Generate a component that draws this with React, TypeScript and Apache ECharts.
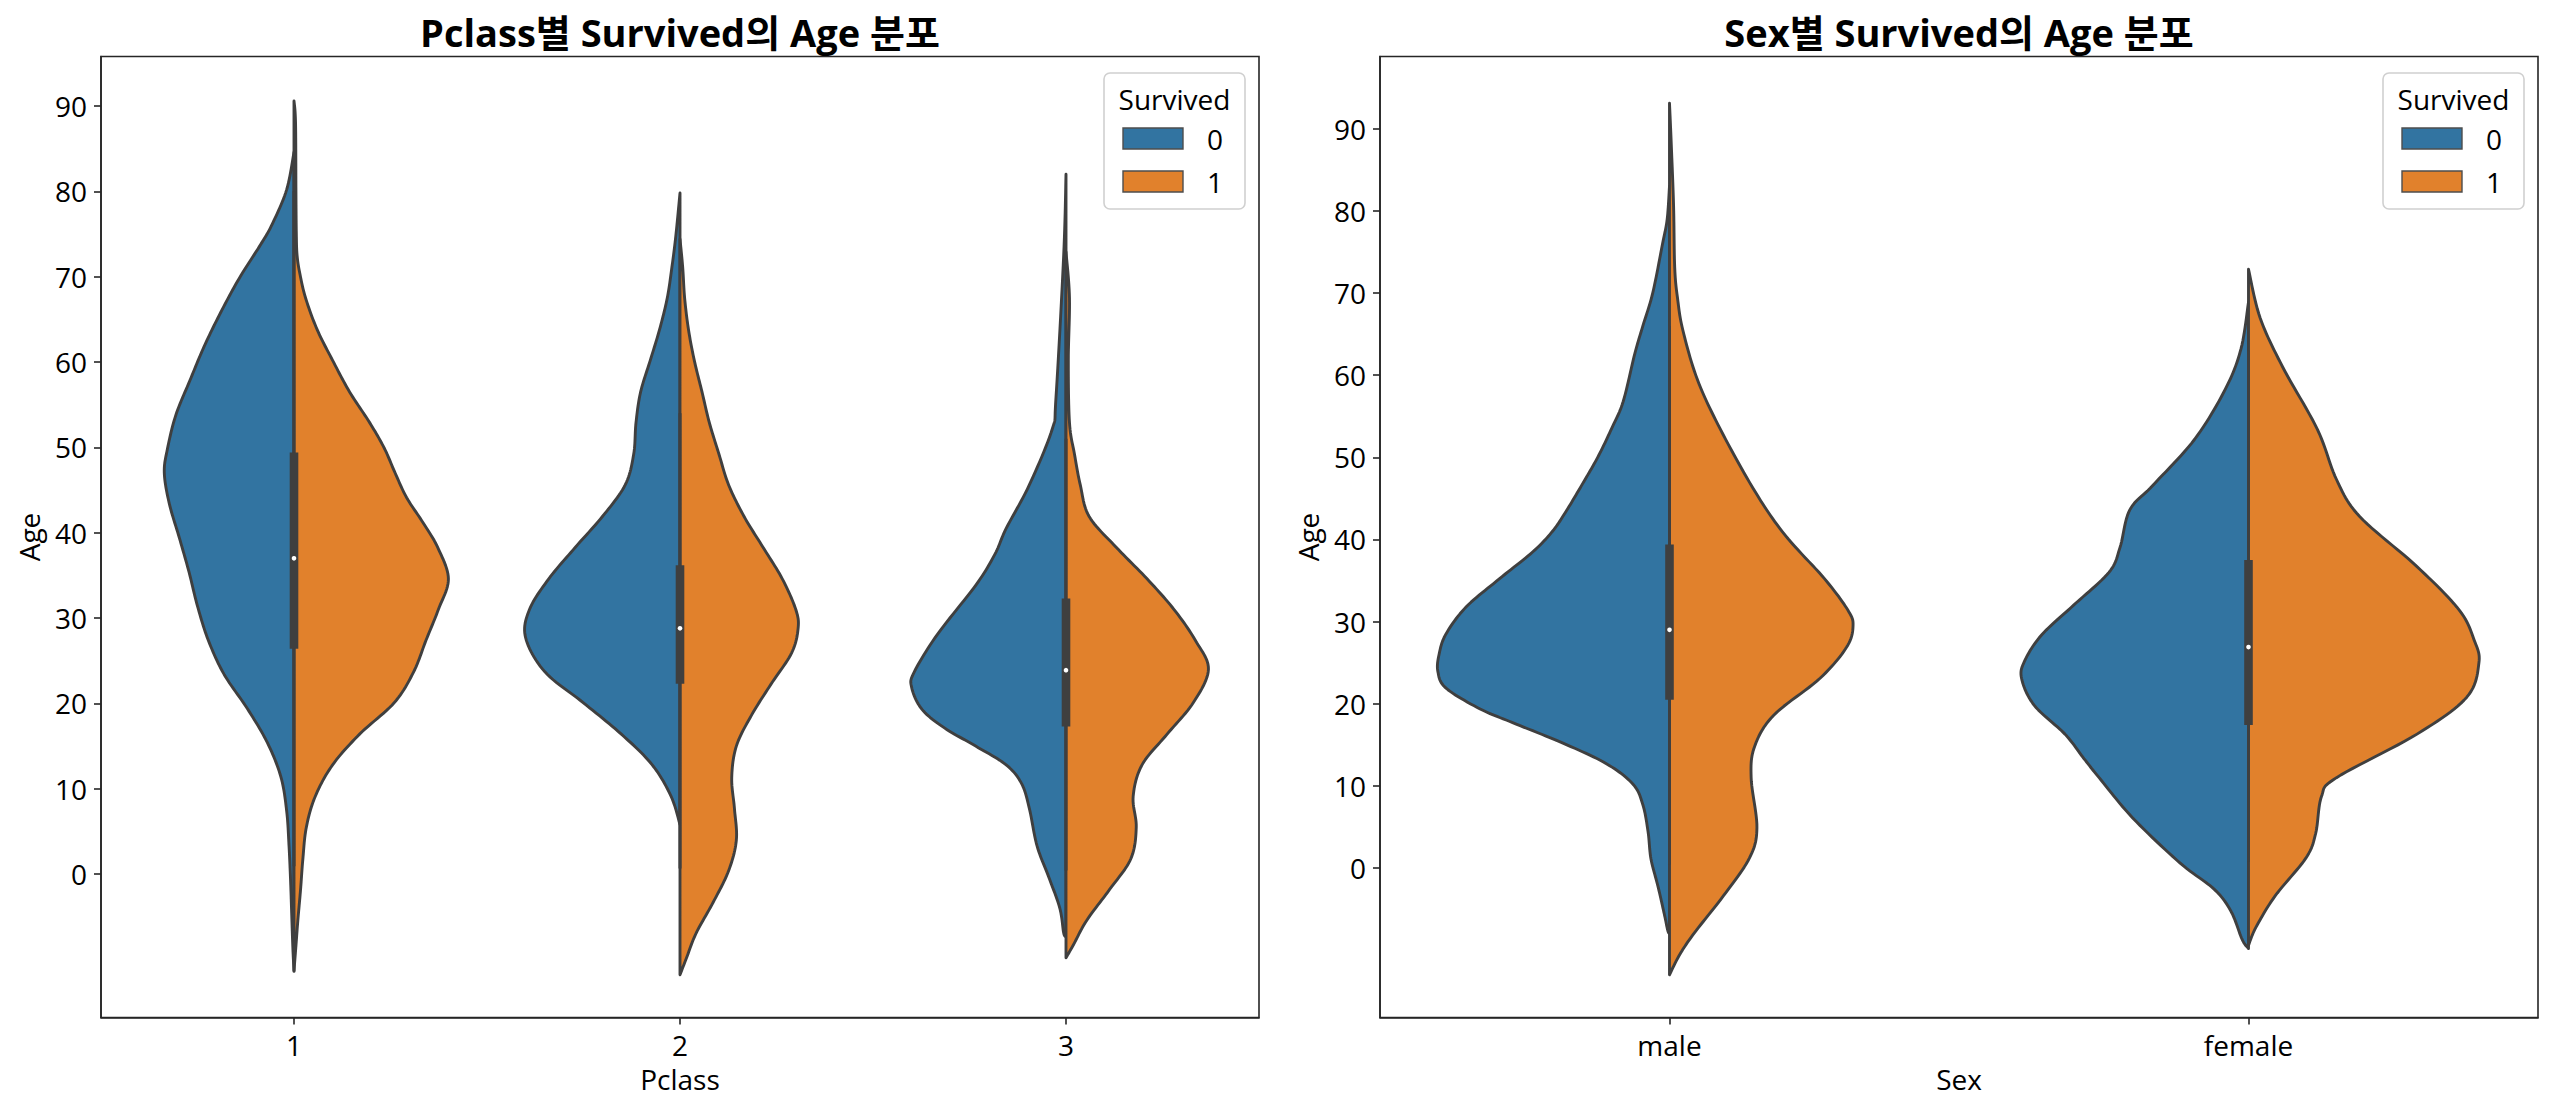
import React, { useEffect, useRef } from "react";
import * as echarts from "echarts";

// ---------- data ----------
const pclassCategories = ["1", "2", "3"];
const sexCategories = ["male", "female"];
const hueNames = ["0", "1"];
const ageTicks = [0, 10, 20, 30, 40, 50, 60, 70, 80, 90];
const pclassAgeRange = [-16.8, 95.8];
const sexAgeRange = [-18.2, 98.8];

// violin half profiles: [age, half-width as a fraction of the category band]
const class1Died = [[84.6, 0], [80.2, 0.019], [76.2, 0.056], [73.8, 0.086], [69.8, 0.142], [65.8, 0.19], [61.8, 0.233], [57.8, 0.27], [53.8, 0.306], [49.8, 0.328], [47, 0.336], [43.4, 0.323], [39.4, 0.297], [35.4, 0.272], [31.4, 0.25], [27.4, 0.222], [23.4, 0.181], [19.4, 0.121], [15.4, 0.069], [11.4, 0.034], [7.4, 0.019], [3.4, 0.013], [-0.6, 0.009], [-4.6, 0.006], [-8.6, 0.003], [-11.4, 0]];
const class1Survived = [[90.6, 0], [88, 0.004], [80, 0.005], [75, 0.006], [72.5, 0.008], [70.4, 0.015], [67.5, 0.03], [63.8, 0.06], [60.2, 0.1], [56.5, 0.144], [52.9, 0.196], [49.9, 0.234], [47, 0.262], [44.1, 0.292], [41.2, 0.334], [38.3, 0.372], [34.6, 0.4], [31, 0.374], [27.4, 0.342], [23.7, 0.31], [20.1, 0.26], [16.4, 0.17], [12.8, 0.1], [9.1, 0.055], [5.5, 0.032], [1.8, 0.023], [-1.8, 0.017], [-5.4, 0.01], [-8.4, 0.005], [-11.3, 0]];
const class2Died = [[79.8, 0], [74.7, 0.011], [71.1, 0.021], [67.5, 0.033], [63.8, 0.053], [60.2, 0.077], [56.5, 0.102], [52.9, 0.114], [49.2, 0.12], [45.6, 0.142], [41.9, 0.201], [38.3, 0.271], [34.6, 0.34], [31, 0.39], [27.7, 0.4], [23.7, 0.35], [20.1, 0.251], [16.4, 0.152], [12.8, 0.072], [9.1, 0.023], [5.8, 0]];
const class2Survived = [[74.4, 0], [71.1, 0.007], [67.5, 0.012], [63.8, 0.022], [60.2, 0.037], [56.5, 0.057], [52.9, 0.076], [49.2, 0.101], [45.6, 0.126], [41.9, 0.166], [38.3, 0.215], [34.6, 0.265], [31, 0.3], [28.8, 0.306], [25.9, 0.289], [22.2, 0.235], [18.6, 0.185], [15, 0.146], [11.3, 0.134], [7.7, 0.141], [4, 0.146], [0.4, 0.126], [-3.3, 0.086], [-6.9, 0.042], [-9.8, 0.017], [-11.8, 0]];
const class3Died = [[82, 0], [72.5, 0.006], [55.8, 0.026], [52.1, 0.036], [45.6, 0.095], [40.5, 0.155], [37.5, 0.184], [33.9, 0.233], [28.1, 0.333], [23.7, 0.393], [21.9, 0.4], [19.3, 0.373], [17.1, 0.314], [15, 0.234], [12.8, 0.155], [10.6, 0.115], [7.7, 0.095], [3.3, 0.075], [-0.3, 0.045], [-4, 0.016], [-6.9, 0.006], [-7.3, 0]];
const class3Survived = [[72.9, 0], [67.5, 0.009], [60.2, 0.006], [52.9, 0.009], [49.2, 0.022], [45.6, 0.037], [41.9, 0.06], [38.3, 0.13], [34.6, 0.21], [31, 0.28], [27.4, 0.335], [24, 0.369], [20.1, 0.33], [16.4, 0.262], [12.8, 0.197], [9.1, 0.174], [5.5, 0.182], [1.8, 0.168], [-1.8, 0.113], [-5.4, 0.054], [-8.3, 0.019], [-9.8, 0]];
const maleDied = [[83, 0], [79, 0.004], [76, 0.012], [70, 0.029], [66, 0.046], [62.6, 0.06], [56.8, 0.08], [53.5, 0.1], [50, 0.124], [46.8, 0.15], [43.5, 0.178], [41, 0.202], [38.5, 0.236], [35.2, 0.294], [31.8, 0.351], [28.5, 0.386], [26, 0.398], [23.9, 0.4], [21.9, 0.386], [19.4, 0.328], [17.7, 0.271], [15.2, 0.184], [12.7, 0.109], [10.2, 0.063], [7.7, 0.046], [4.4, 0.037], [1.1, 0.032], [-2.2, 0.02], [-5.6, 0.009], [-7.6, 0.003], [-8, 0]];
const maleSurvived = [[93.1, 0], [88.2, 0.003], [80.7, 0.007], [73.1, 0.009], [69.3, 0.014], [65.5, 0.023], [59.5, 0.048], [53.4, 0.088], [45.8, 0.148], [40.5, 0.2], [35.2, 0.268], [31.4, 0.308], [29.5, 0.317], [26.9, 0.306], [23.1, 0.26], [18.6, 0.18], [14.8, 0.147], [11, 0.141], [4.9, 0.151], [1.2, 0.138], [-3.4, 0.093], [-7.9, 0.043], [-10.5, 0.018], [-13, 0]];
const femaleDied = [[68.9, 0], [63.2, 0.013], [58.3, 0.04], [52.2, 0.093], [46.6, 0.165], [43.6, 0.205], [39, 0.222], [36, 0.241], [32, 0.302], [28.4, 0.357], [25.3, 0.386], [23.1, 0.392], [19.8, 0.37], [16.3, 0.317], [13.3, 0.284], [11, 0.258], [6.1, 0.2], [0.6, 0.118], [-2.6, 0.059], [-5.3, 0.03], [-8.7, 0.011], [-9.8, 0]];
const femaleSurvived = [[72.9, 0], [67, 0.02], [61, 0.059], [53.4, 0.119], [47.3, 0.152], [42.8, 0.192], [36.7, 0.291], [31.4, 0.364], [27.7, 0.39], [25, 0.398], [20.8, 0.377], [16.3, 0.291], [11, 0.152], [8.7, 0.126], [4.2, 0.116], [1.2, 0.099], [-3.4, 0.046], [-7.2, 0.013], [-9.4, 0]];

// inner box: [whisker low, Q1, median, Q3, whisker high]
const pclassBoxes = [[0.92, 26.4, 37.0, 49.4, 80], [0.67, 22.3, 28.8, 36.2, 54], [0.42, 17.3, 23.9, 32.3, 51]];
const sexBoxes = [[0.42, 20.5, 29.0, 39.4, 66], [0.75, 17.4, 26.9, 37.5, 63]];

// ---------- styles ----------
const FONT = "'Open Sans', 'Noto Sans CJK KR', sans-serif";
const BLUE = "#3274a1";
const ORANGE = "#e1812c";
const EDGE = "#3f3f3f";
const FRAME = "#262626";

function spline(pts: number[][], steps: number): number[][] {
  if (pts.length < 3) return pts;
  const out: number[][] = [];
  const n = pts.length;
  for (let i = 0; i < n - 1; i++) {
    const p0 = pts[Math.max(0, i - 1)];
    const p1 = pts[i];
    const p2 = pts[i + 1];
    const p3 = pts[Math.min(n - 1, i + 2)];
    for (let s = 0; s < steps; s++) {
      const t = s / steps;
      const t2 = t * t;
      const t3 = t2 * t;
      const f = (a: number, b: number, c: number, d: number) =>
        0.5 * (2 * b + (-a + c) * t + (2 * a - 5 * b + 4 * c - d) * t2 + (-a + 3 * b - 3 * c + d) * t3);
      out.push([f(p0[0], p1[0], p2[0], p3[0]), f(p0[1], p1[1], p2[1], p3[1])]);
    }
  }
  out.push(pts[n - 1]);
  return out;
}

function violinSeries(name: string, axisIndex: number, profiles: number[][][], side: number, color: string) {
  return {
    type: "custom",
    name,
    xAxisIndex: axisIndex,
    yAxisIndex: axisIndex,
    z: 2,
    data: profiles.map((p, i) => [i, p[0][0]]),
    encode: { x: 0, y: 1 },
    itemStyle: { color },
    renderItem: (params: any, api: any) => {
      const prof = profiles[params.dataIndex];
      const cat = api.value(0);
      const band = api.size([1, 0])[0];
      const cx = api.coord([cat, 0])[0];
      const raw = prof.map(([age, w]) => {
        const c = api.coord([cat, age]);
        return [c[0] + side * w * band, c[1]];
      });
      const pts = spline(raw, 12).map((p) => [side < 0 ? Math.min(p[0], cx) : Math.max(p[0], cx), p[1]]);
      return {
        type: "polygon",
        shape: { points: pts },
        style: { fill: color, stroke: EDGE, lineWidth: 2.9, lineJoin: "round" },
      };
    },
  };
}

function boxSeries(axisIndex: number, boxes: number[][]) {
  return {
    type: "custom",
    name: "box",
    xAxisIndex: axisIndex,
    yAxisIndex: axisIndex,
    z: 5,
    data: boxes.map((b, i) => [i, ...b]),
    encode: { x: 0, y: [1, 2, 3, 4, 5] },
    renderItem: (params: any, api: any) => {
      const cat = api.value(0);
      const lo = api.coord([cat, api.value(1)]);
      const q1 = api.coord([cat, api.value(2)]);
      const med = api.coord([cat, api.value(3)]);
      const q3 = api.coord([cat, api.value(4)]);
      const hi = api.coord([cat, api.value(5)]);
      return {
        type: "group",
        children: [
          { type: "line", shape: { x1: lo[0], y1: lo[1], x2: hi[0], y2: hi[1] }, style: { stroke: EDGE, lineWidth: 3 } },
          { type: "rect", shape: { x: q1[0] - 4.3, y: q3[1], width: 8.6, height: q1[1] - q3[1] }, style: { fill: EDGE } },
          { type: "circle", shape: { cx: med[0], cy: med[1], r: 2.3 }, style: { fill: "#ffffff" } },
        ],
      };
    },
  };
}

function legendGraphic(right: number) {
  const x0 = right - 141;
  const y0 = 73;
  return [
    { type: "rect", shape: { x: x0, y: y0, width: 141, height: 136, r: 6 }, style: { fill: "rgba(255,255,255,0.8)", stroke: "#d0d0d0", lineWidth: 1.6 }, z: 10 },
    { type: "text", x: x0 + 70.5, y: y0 + 26, style: { text: "Survived", font: `28px ${FONT}`, fill: "#000", align: "center", verticalAlign: "middle" }, z: 11 },
    { type: "rect", shape: { x: x0 + 19, y: y0 + 55, width: 60, height: 21 }, style: { fill: BLUE, stroke: "#4d4d4d", lineWidth: 1.4 }, z: 11 },
    { type: "text", x: x0 + 111, y: y0 + 66, style: { text: hueNames[0], font: `28px ${FONT}`, fill: "#000", align: "center", verticalAlign: "middle" }, z: 11 },
    { type: "rect", shape: { x: x0 + 19, y: y0 + 98, width: 60, height: 21 }, style: { fill: ORANGE, stroke: "#4d4d4d", lineWidth: 1.4 }, z: 11 },
    { type: "text", x: x0 + 111, y: y0 + 109, style: { text: hueNames[1], font: `28px ${FONT}`, fill: "#000", align: "center", verticalAlign: "middle" }, z: 11 },
  ];
}

const axisText = { fontFamily: FONT, fontSize: 28, color: "#000" };

function xAxisOpt(gridIndex: number, cats: string[], name: string) {
  return {
    type: "category",
    gridIndex,
    data: cats,
    boundaryGap: true,
    name,
    nameLocation: "middle",
    nameGap: 47,
    nameTextStyle: axisText,
    axisLine: { show: true, onZero: false, lineStyle: { color: FRAME, width: 1.6 } },
    axisTick: { show: true, alignWithLabel: true, length: 7, lineStyle: { color: FRAME, width: 1.6 } },
    axisLabel: { ...axisText, margin: 13 },
    splitLine: { show: false },
  };
}

function yAxisOpt(gridIndex: number, range: number[]) {
  return {
    type: "value",
    gridIndex,
    min: range[0],
    max: range[1],
    name: "Age",
    nameLocation: "middle",
    nameGap: 58,
    nameTextStyle: axisText,
    axisLine: { show: true, onZero: false, lineStyle: { color: FRAME, width: 1.6 } },
    axisTick: { show: true, length: 7, lineStyle: { color: FRAME, width: 1.6 }, customValues: ageTicks },
    axisLabel: { ...axisText, margin: 14, customValues: ageTicks },
    splitLine: { show: false },
  };
}

export default function App() {
  const ref = useRef<HTMLDivElement>(null);
  useEffect(() => {
    if (!ref.current) return;
    const chart = echarts.init(ref.current, null, { renderer: "svg" });
    chart.setOption({
      animation: false,
      backgroundColor: "#ffffff",
      title: [
        { text: "Pclass별 Survived의 Age 분포", left: 680, top: 32, textAlign: "center", textVerticalAlign: "middle", padding: 0, textStyle: { fontFamily: FONT, fontSize: 38, fontWeight: "bold", color: "#000" } },
        { text: "Sex별 Survived의 Age 분포", left: 1959, top: 32, textAlign: "center", textVerticalAlign: "middle", padding: 0, textStyle: { fontFamily: FONT, fontSize: 38, fontWeight: "bold", color: "#000" } },
      ],
      grid: [
        { left: 101, top: 56.5, width: 1158, height: 961, show: true, borderColor: FRAME, borderWidth: 1.6, backgroundColor: "transparent" },
        { left: 1380, top: 56.5, width: 1158, height: 961, show: true, borderColor: FRAME, borderWidth: 1.6, backgroundColor: "transparent" },
      ],
      xAxis: [xAxisOpt(0, pclassCategories, "Pclass"), xAxisOpt(1, sexCategories, "Sex")],
      yAxis: [yAxisOpt(0, pclassAgeRange), yAxisOpt(1, sexAgeRange)],
      series: [
        violinSeries(hueNames[0], 0, [class1Died, class2Died, class3Died], -1, BLUE),
        violinSeries(hueNames[1], 0, [class1Survived, class2Survived, class3Survived], 1, ORANGE),
        boxSeries(0, pclassBoxes),
        violinSeries(hueNames[0], 1, [maleDied, femaleDied], -1, BLUE),
        violinSeries(hueNames[1], 1, [maleSurvived, femaleSurvived], 1, ORANGE),
        boxSeries(1, sexBoxes),
      ],
      graphic: [...legendGraphic(1259 - 14), ...legendGraphic(2538 - 14)],
    });
    return () => chart.dispose();
  }, []);
  return <div ref={ref} style={{ position: "fixed", left: 0, top: 0, width: "2553px", height: "1111px" }} />;
}
